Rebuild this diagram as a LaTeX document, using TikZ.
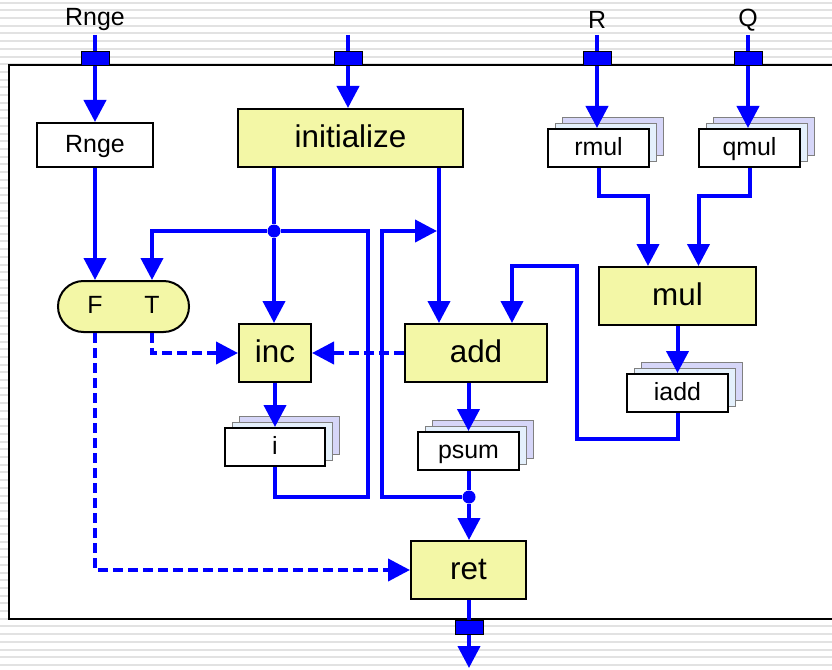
\documentclass[tikz,border=0pt]{standalone}
\usepackage{fontspec}
\setmainfont{Liberation Sans}
\usetikzlibrary{arrows.meta,shadows}
\definecolor{wireblue}{RGB}{0,0,255}
\definecolor{opyellow}{RGB}{243,247,166}
\definecolor{backlav}{RGB}{214,214,248}
\definecolor{backsky}{RGB}{228,240,252}
\definecolor{stripe}{RGB}{226,226,226}
\tikzset{
  line/.style={draw=wireblue, line width=4bp},
  wire/.style={line, -{Triangle[width=22bp,length=22bp]}},
  ctrl/.style={wire, dash pattern=on 10bp off 5bp},
  opbox/.style={draw=black, line width=2bp, fill=opyellow, inner sep=0pt,
    text height=25.2bp, text depth=6.3bp, font=\fontsize{31.5}{35}\selectfont},
  varbox/.style={draw=black, line width=2bp, fill=white, inner sep=0pt,
    text height=20bp, text depth=5bp, font=\fontsize{25}{29}\selectfont},
  stackbox/.style={varbox, minimum width=101bp, minimum height=38bp,
    copy shadow={shadow xshift=14bp, shadow yshift=12bp, fill=backlav, draw=gray, line width=0.8bp},
    copy shadow={shadow xshift=7bp, shadow yshift=6bp, fill=backsky, draw=gray, line width=0.8bp}},
  port/.style={draw=black, line width=0.8bp, fill=wireblue, minimum width=28bp,
    minimum height=14bp, inner sep=0pt},
  junction/.style={circle, fill=wireblue, minimum size=13bp, inner sep=0pt},
  label/.style={inner sep=0pt, font=\fontsize{25}{29}\selectfont}
}
\begin{document}
\begin{tikzpicture}[x=1bp, y=-1bp]
        \useasboundingbox (0,0) rectangle (832,670);
        \clip (0,0) rectangle (832,670);
        %% Background
        \foreach \k in {0,...,87}
          \draw[stripe, line width=2bp] (0,2.7+7.7*\k) -- (832,2.7+7.7*\k);
        \draw[line width=2bp, fill=white] (9,65) rectangle (850,619);
        %% Inputs
        \node[label] (lrnge) at (95,20) {Rnge};
        \node[label] (lr) at (597,20) {R};
        \node[label] (lq) at (748,20) {Q};
        \coordinate (inrnge) at (95,35);
        \coordinate (ininit) at (348,35);
        \coordinate (inr) at (597,35);
        \coordinate (inq) at (748,35);
        %% Boxes
        \node[varbox, minimum width=116bp, minimum height=44bp] (rnge) at (95,145) {Rnge};
        \node[opbox, minimum width=225bp, minimum height=58bp] (init) at (350.5,138) {initialize};
        \node[stackbox] (rmul) at (598.5,148) {rmul};
        \node[stackbox] (qmul) at (749.5,148) {qmul};
        \node[draw=black, line width=2bp, fill=opyellow, rounded corners=25.5bp,
              minimum width=131bp, minimum height=51bp] (cond) at (123.5,306.5) {};
        \node[label] (fl) at (95,305) {F};
        \node[label] (tl) at (152,305) {T};
        \node[opbox, minimum width=72bp, minimum height=58bp] (inc) at (275,353) {inc};
        \node[opbox, minimum width=142bp, minimum height=58bp] (add) at (476,353) {add};
        \node[opbox, minimum width=157bp, minimum height=58bp] (mul) at (677.5,296) {mul};
        \node[stackbox, minimum width=100bp] (i) at (275,447) {i};
        \node[stackbox] (psum) at (468.5,451) {psum};
        \node[stackbox] (iadd) at (677.5,393) {iadd};
        \node[opbox, minimum width=115bp, minimum height=58bp] (ret) at (468.5,570) {ret};
        %% Junctions
        \node[junction] (j1) at (274,231) {};
        \node[junction] (j2) at (469,497) {};
        \coordinate (loopa) at (368,497);
        \coordinate (loopb) at (382,497);
        \coordinate (addl) at ([xshift=-37bp]add.north);
        \coordinate (addr) at ([xshift=36bp]add.north);
        \coordinate (mull) at ([xshift=-29.5bp]mul.north);
        \coordinate (mulr) at ([xshift=21bp]mul.north);
        \coordinate (fbk) at (577,439);
        \coordinate (outret) at (469,668);
        %% Data wires
        \draw[wire] (inrnge) -- (rnge.north);
        \draw[wire] (ininit) -- (ininit |- init.north);
        \draw[wire] (inr) -- (inr |- rmul.north);
        \draw[wire] (inq) -- (inq |- qmul.north);
        \draw[wire] (rnge.south) -- (rnge.south |- cond.north);
        \draw[line] (j1 |- init.south) -- (j1);
        \draw[wire] (j1) -| (tl |- cond.north);
        \draw[wire] (j1) -- (j1 |- inc.north);
        \draw[wire] (inc.south) -- (i.north);
        \draw[line] (i.south) |- (loopa) |- (j1);
        \draw[wire] (addl |- init.south) -- (addl);
        \draw[wire] (rmul.south) -- ++(0,28) -| (mull);
        \draw[wire] (qmul.south) -- ++(0,28) -| (mulr);
        \draw[wire] (mul.south) -- (iadd.north);
        \draw[wire] (iadd.south) |- (fbk) |- (addr |- mul.north) -- (addr);
        \draw[wire] (psum.north |- add.south) -- (psum.north);
        \draw[line] (j2 |- psum.south) -- (j2);
        \draw[wire, shorten >=2bp] (j2) -- (loopb) |- (addl |- j1);
        \draw[wire] (j2) -- (j2 |- ret.north);
        \draw[wire] (j2 |- ret.south) -- (outret);
        %% Control wires
        \draw[ctrl] (tl |- cond.south) |- (inc.west);
        \draw[ctrl] (add.west) -- (inc.east);
        \draw[ctrl] (fl |- cond.south) |- (ret.west);
        %% Ports
        \node[port] (prnge) at (95,58) {};
        \node[port] (pinit) at (348,58) {};
        \node[port] (pr) at (597,58) {};
        \node[port] (pq) at (748,58) {};
        \node[port] (pret) at (469,627) {};
    \end{tikzpicture}
\end{document}
